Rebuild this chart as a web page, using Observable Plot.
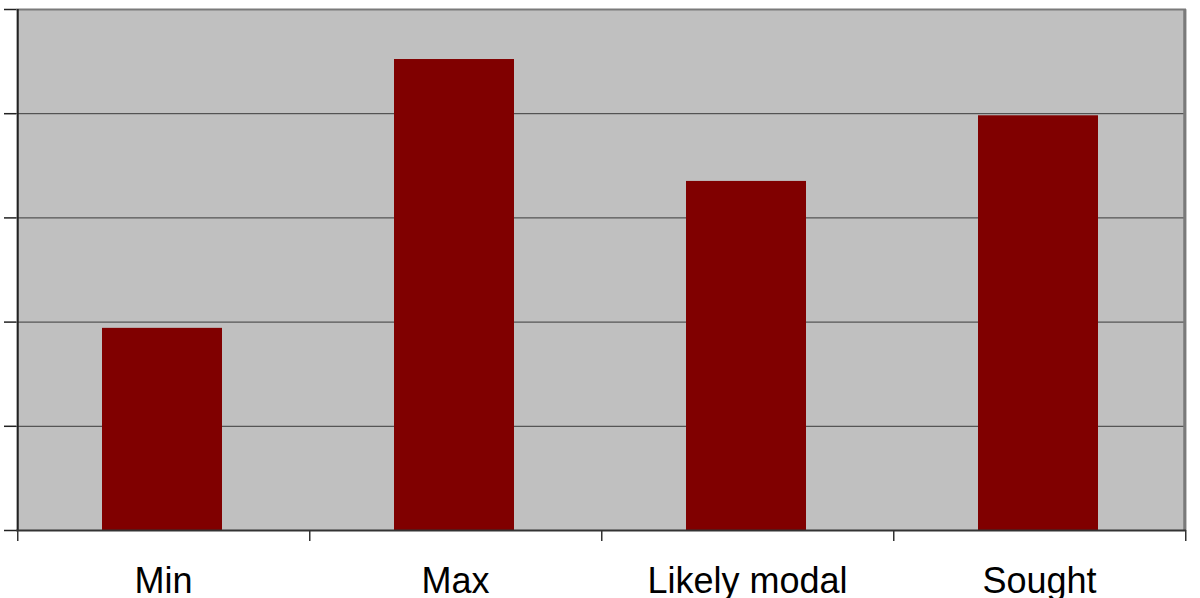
<!DOCTYPE html>
<html>
<head>
<meta charset="utf-8">
<script src="https://cdn.jsdelivr.net/npm/d3@7"></script>
<script src="https://cdn.jsdelivr.net/npm/@observablehq/plot@0.6"></script>
<style>
  html, body { margin: 0; padding: 0; background: #fff; }
  #chart svg { display: block; }
</style>
</head>
<body>
<div id="chart"></div>
<script>
const categories = ["Min", "Max", "Likely modal", "Sought"];
const values = [1.94, 4.52, 3.35, 3.98];
const yTicks = [0, 1, 2, 3, 4, 5];

const data = categories.map((c, i) => ({ category: c, value: values[i] }));

const W = 1200, H = 598;
const mL = 16, mR = 14, mT = 9, mB = 68;
const band = (W - mL - mR) / categories.length;
const last = categories[categories.length - 1];

const chart = Plot.plot({
  width: W,
  height: H,
  marginLeft: mL,
  marginRight: mR,
  marginTop: mT,
  marginBottom: mB,
  style: { fontFamily: "'Liberation Sans', Arial, sans-serif", background: "#fff" },
  x: { domain: categories, padding: 0, label: null },
  y: { domain: [0, 5], label: null },
  marks: [
    Plot.frame({ fill: "#c0c0c0", stroke: null }),
    Plot.gridY(yTicks.slice(1, 5), { stroke: "#3a3a3a", strokeOpacity: 1, strokeWidth: 1 }),
    Plot.barY(data, { x: "category", y: "value", fill: "#800000", insetLeft: 85, insetRight: 87 }),
    // top and right border
    Plot.ruleY([5], { stroke: "#7a7a7a", strokeWidth: 2 }),
    Plot.ruleX([last], { stroke: "#7a7a7a", strokeWidth: 3, dx: band / 2 - 1, y1: 0, y2: 5 }),
    // left axis line
    Plot.ruleX([categories[0]], { stroke: "#222", strokeWidth: 2, dx: -band / 2 + 0.5, y1: 0, y2: 5 }),
    // bottom axis line
    Plot.ruleY([0], { stroke: "#333", strokeWidth: 2 }),
    // y ticks without labels
    Plot.axisY(yTicks, { tickSize: 12, tickFormat: () => "", stroke: "#222", strokeWidth: 1.5 }),
    // x boundary ticks below the axis
    Plot.ruleX(categories, { x: d => d, dx: -band / 2 + 0.5, y1: 0, y2: 0, insetBottom: -11, stroke: "#333", strokeWidth: 1.5 }),
    Plot.ruleX([last], { x: d => d, dx: band / 2, y1: 0, y2: 0, insetBottom: -11, stroke: "#333", strokeWidth: 1.5 }),
    Plot.axisX({ tickSize: 0, tickPadding: 37, fontSize: 36, fill: "#000" })
  ]
});

document.getElementById("chart").appendChild(chart);
</script>
</body>
</html>
